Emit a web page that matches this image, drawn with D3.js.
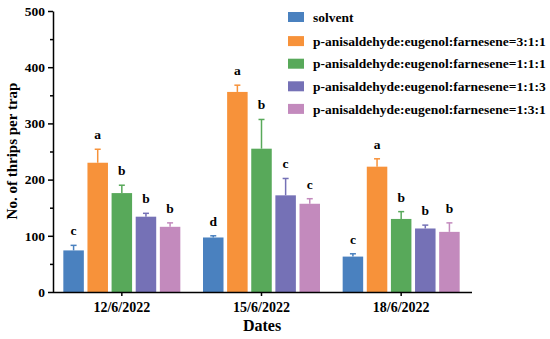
<!DOCTYPE html>
<html>
<head>
<meta charset="utf-8">
<script src="https://cdn.jsdelivr.net/npm/d3@7"></script>
<style>
  body { margin: 0; background: #fff; }
  svg { display: block; font-family: "Liberation Serif", "Times New Roman", serif; font-weight: bold; }
</style>
</head>
<body>
<svg id="chart"></svg>
<script>
// data
const dates = ["12/6/2022", "15/6/2022", "18/6/2022"];
const treatments = [
  "solvent",
  "p-anisaldehyde:eugenol:farnesene=3:1:1",
  "p-anisaldehyde:eugenol:farnesene=1:1:1",
  "p-anisaldehyde:eugenol:farnesene=1:1:3",
  "p-anisaldehyde:eugenol:farnesene=1:3:1"
];
const colors = ["#4a81bf", "#f7923a", "#58a95a", "#7571b6", "#c38abd"];

// mean values per treatment, one entry per date
const means = [
  [74, 97, 63],
  [230, 356, 223],
  [176, 255, 130],
  [134, 172, 113],
  [116, 157, 107]
];
const errors = [
  [9, 3, 5],
  [24, 12, 14],
  [14, 52, 13],
  [6, 30, 6],
  [7, 9, 16]
];
const letters = [
  ["c", "d", "c"],
  ["a", "a", "a"],
  ["b", "b", "b"],
  ["b", "c", "b"],
  ["b", "c", "b"]
];
const yTicks = [0, 100, 200, 300, 400, 500];

const width = 550, height = 339;
const svg = d3.select("#chart").attr("width", width).attr("height", height);

const x0 = d3.scaleBand().domain(dates).range([52, 471]).paddingInner(0).paddingOuter(0);
const x1 = d3.scaleBand().domain(d3.range(treatments.length)).range([-58.5, 58.5]).paddingInner(0.15);
const y = d3.scaleLinear().domain([0, 500]).range([292, 11]);

// bars
const rows = [];
treatments.forEach((t, i) => {
  dates.forEach((d, j) => {
    rows.push({ i, date: d, v: means[i][j], e: errors[i][j], l: letters[i][j] });
  });
});
const cx = d => x0(d.date) + x0.bandwidth() / 2 + x1(d.i);

const g = svg.append("g");
g.selectAll("rect.bar")
  .data(rows)
  .enter()
  .append("rect")
  .attr("class", "bar")
  .attr("x", d => cx(d))
  .attr("y", d => y(d.v))
  .attr("width", x1.bandwidth())
  .attr("height", d => y(0) - y(d.v))
  .attr("fill", d => colors[d.i]);

// error bars
const mid = d => cx(d) + x1.bandwidth() / 2;
g.selectAll("line.err")
  .data(rows)
  .enter()
  .append("line")
  .attr("x1", mid).attr("x2", mid)
  .attr("y1", d => y(d.v)).attr("y2", d => y(d.v + d.e))
  .attr("stroke", d => colors[d.i]).attr("stroke-width", 1.5);
g.selectAll("line.cap")
  .data(rows)
  .enter()
  .append("line")
  .attr("x1", d => mid(d) - 3).attr("x2", d => mid(d) + 3)
  .attr("y1", d => y(d.v + d.e)).attr("y2", d => y(d.v + d.e))
  .attr("stroke", d => colors[d.i]).attr("stroke-width", 1.5);

// significance letters
g.selectAll("text.sig")
  .data(rows)
  .enter()
  .append("text")
  .attr("x", mid)
  .attr("y", d => y(d.v + d.e) - 10)
  .attr("text-anchor", "middle")
  .attr("font-size", 13.5)
  .text(d => d.l);

// y axis
const yAxis = svg.append("g").attr("transform", "translate(53,0)")
  .call(d3.axisLeft(y).tickValues(yTicks).tickSize(5).tickSizeOuter(0).tickPadding(3));
svg.append("g").attr("transform", "translate(53,0)")
  .call(d3.axisLeft(y).tickValues(d3.range(50, 500, 100)).tickSize(3).tickFormat(""))
  .call(a => a.select(".domain").remove());
yAxis.selectAll("text").attr("font-size", 13.5).attr("font-family", "Liberation Serif").attr("font-weight", "bold").attr("fill", "#000");

// x axis
const xAxis = svg.append("g").attr("transform", "translate(0,292)")
  .call(d3.axisBottom(x0).tickSize(4).tickSizeOuter(0).tickPadding(6));
xAxis.select(".domain").attr("d", "M53,0.5H472");
xAxis.selectAll("text").attr("font-size", 14).attr("font-family", "Liberation Serif").attr("font-weight", "bold").attr("fill", "#000");

svg.selectAll(".domain, .tick line").attr("stroke", "#000").attr("stroke-width", 1.5);

// axis titles
svg.append("text")
  .attr("x", 262).attr("y", 331)
  .attr("text-anchor", "middle")
  .attr("font-size", 16)
  .text("Dates");
svg.append("text")
  .attr("transform", "translate(17,151) rotate(-90)")
  .attr("text-anchor", "middle")
  .attr("font-size", 15)
  .text("No. of thrips per trap");

// legend
const legend = svg.append("g").selectAll("g")
  .data(treatments)
  .enter()
  .append("g")
  .attr("transform", (d, i) => `translate(288,${17 + i * 22.6 + (i > 0 ? 1.5 : 0)})`);
legend.append("rect")
  .attr("x", 0).attr("y", -5)
  .attr("width", 16).attr("height", 10)
  .attr("fill", (d, i) => colors[i]);
legend.append("text")
  .attr("x", 25).attr("y", 0)
  .attr("dy", "0.35em")
  .attr("font-size", 13.5)
  .text(d => d);
</script>
</body>
</html>
